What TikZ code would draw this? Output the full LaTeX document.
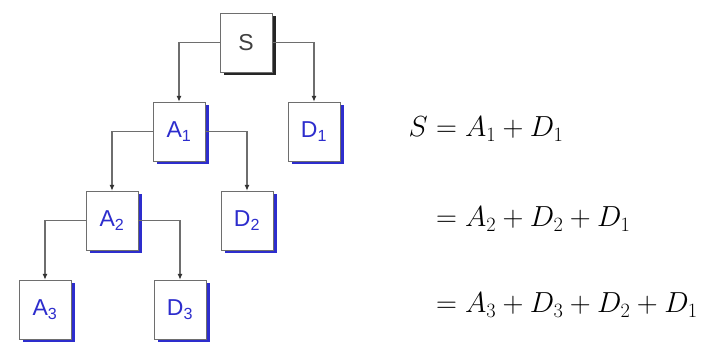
\documentclass[tikz,border=0pt]{standalone}
\usepackage{fix-cm}
\usepackage{fontspec}
\newfontfamily\boxfont{Liberation Sans}
\usetikzlibrary{positioning, shadows, arrows.meta}
\definecolor{boxblue}{RGB}{45,45,205}
\definecolor{linegray}{RGB}{110,110,110}
\tikzstyle{box} = [rectangle, minimum width=52pt, minimum height=59pt, inner sep=0pt, draw=linegray, fill=white, font=\boxfont\fontsize{23}{26}\selectfont]
\tikzstyle{rootbox} = [box, text=black!75, drop shadow={shadow xshift=3.5pt, shadow yshift=-3.5pt, fill=black!85, opacity=1}]
\tikzstyle{subbox} = [box, text=boxblue, drop shadow={shadow xshift=3.5pt, shadow yshift=-3.5pt, fill=boxblue, opacity=1}]
\tikzstyle{arrow} = [draw=linegray, line width=1.1pt, -{Latex[length=6pt, width=5pt, color=black!80]}]
\tikzstyle{eqtext} = [inner sep=0pt, font=\fontsize{29}{33}\selectfont]

\begin{document}
\begin{tikzpicture}[x=1pt, y=1pt, node distance=89pt]
			\useasboundingbox (0,0) rectangle (712,344);
			
			% decomposition tree
			\node (S) [rootbox] at (246,301.5) {S};
			\node (A1) [subbox, below of=S, xshift=-67pt] {A\textsubscript{1}};
			\node (D1) [subbox, below of=S, xshift=68pt] {D\textsubscript{1}};
			\node (A2) [subbox, below of=A1, xshift=-67pt] {A\textsubscript{2}};
			\node (D2) [subbox, below of=A1, xshift=68pt] {D\textsubscript{2}};
			\node (A3) [subbox, below of=A2, xshift=-67pt] {A\textsubscript{3}};
			\node (D3) [subbox, below of=A2, xshift=68pt] {D\textsubscript{3}};
			
			\draw [arrow] (S.west) -| (A1);
			\draw [arrow] (S.east) -| (D1);
			\draw [arrow] (A1.west) -| (A2);
			\draw [arrow] (A1.east) -| (D2);
			\draw [arrow] (A2.west) -| (A3);
			\draw [arrow] (A2.east) -| (D3);
			
			% equations, aligned on the = sign
			\node (lhs) [eqtext, anchor=base east] at (428,207) {$S$};
			\node (eq1) [eqtext, anchor=base west] at (436,207) {$=A_1+D_1$};
			\node (eq2) [eqtext, anchor=base west] at (436,117) {$=A_2+D_2+D_1$};
			\node (eq3) [eqtext, anchor=base west] at (436,31) {$=A_3+D_3+D_2+D_1$};
			
		\end{tikzpicture}
\end{document}
